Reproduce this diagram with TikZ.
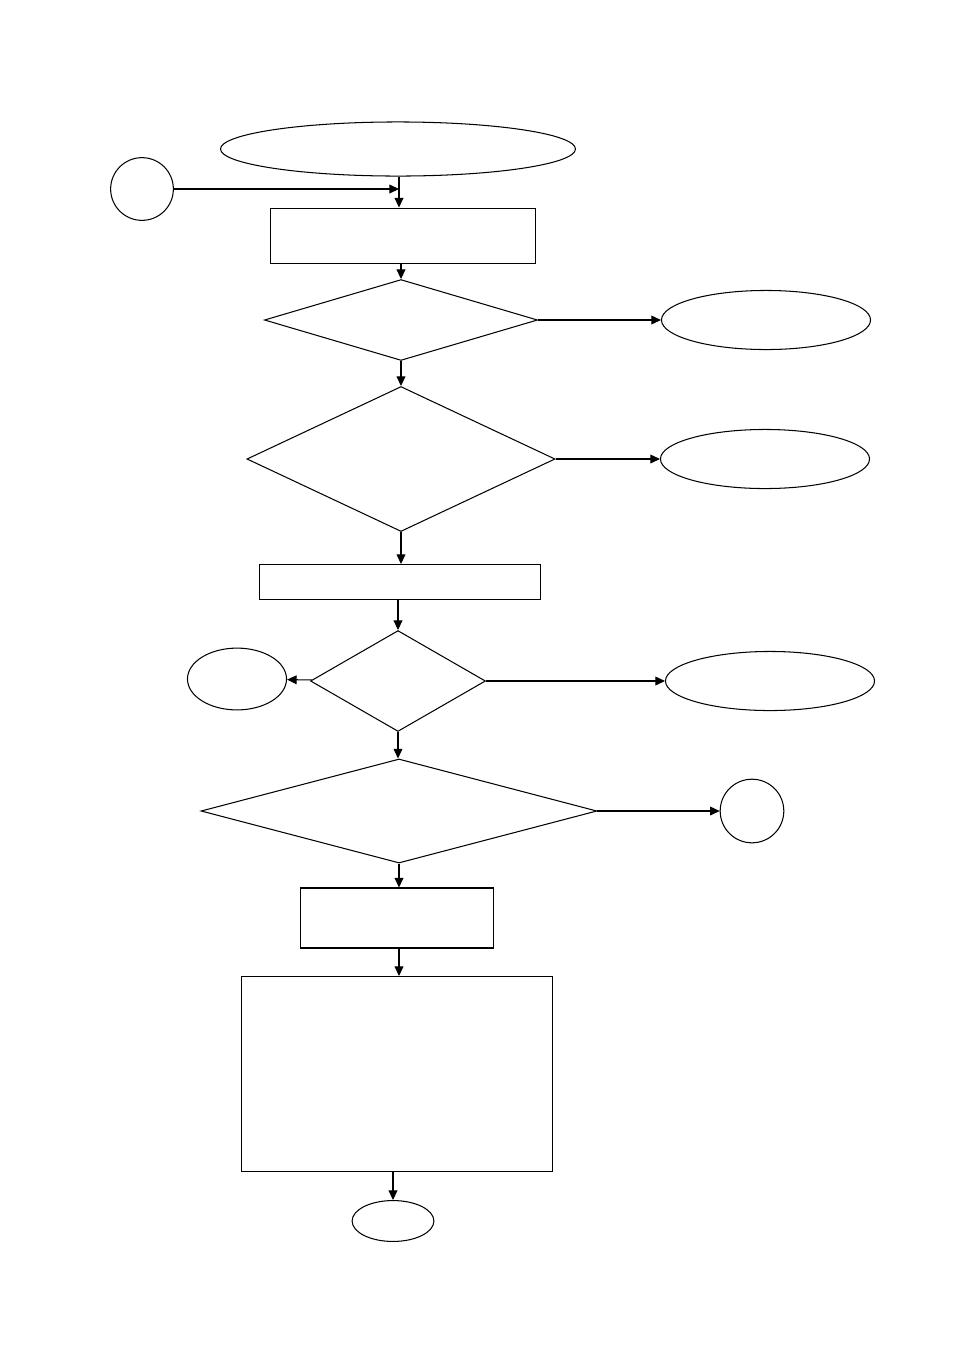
\documentclass[tikz,border=0pt]{standalone}
\usepackage{tikz}
\usetikzlibrary{shapes.geometric, arrows.meta, positioning, calc}

\begin{document}
\begin{tikzpicture}[
        x=0.022cm, y=-0.022cm,
        line width=0.65pt,
        arrow/.style={-{Triangle[length=6pt, width=5.5pt]}, line width=0.65pt},
        terminal/.style={ellipse, draw=black, inner sep=0pt, fill=white},
        connector/.style={circle, draw=black, inner sep=0pt, fill=white},
        box/.style={rectangle, draw=black, inner sep=0pt, fill=white},
        decision/.style={diamond, draw=black, inner sep=0pt, fill=white}
    ]
    \useasboundingbox (0,0) rectangle (954,1348);

    % Nodes
    \node[terminal, minimum width=7.81cm, minimum height=1.19cm] (start) at (398,149) {};
    \node[connector, minimum size=1.38cm] (conin) at (142,189) {};
    \coordinate (join) at (399,189);
    \node[box, minimum width=5.81cm, minimum height=1.23cm] (init) at (403,236) {};

    \node[decision, minimum width=6.01cm, minimum height=1.78cm] (checka) at (401,320) {};
    \node[terminal, minimum width=4.6cm, minimum height=1.3cm] (exita) at (766,320) {};

    \node[decision, minimum width=6.78cm, minimum height=3.19cm] (checkb) at (401,459) {};
    \node[terminal, minimum width=4.6cm, minimum height=1.3cm] (exitb) at (765,459) {};

    \node[box, minimum width=6.18cm, minimum height=0.77cm] (load) at (400,582) {};

    \node[decision, minimum width=3.85cm, minimum height=2.22cm] (checkc) at (398,681) {};
    \node[terminal, minimum width=2.18cm, minimum height=1.36cm] (exitl) at (237,679) {};
    \node[terminal, minimum width=4.6cm, minimum height=1.3cm] (exitc) at (770,681) {};

    \node[decision, minimum width=8.71cm, minimum height=2.29cm] (checkd) at (399,811) {};
    \node[connector, minimum size=1.4cm] (conout) at (752,811) {};

    \node[box, minimum width=4.25cm, minimum height=1.32cm] (step) at (397,918) {};
    \node[box, minimum width=6.86cm, minimum height=4.29cm] (output) at (397,1074) {};
    \node[terminal, minimum width=1.8cm, minimum height=0.9cm] (stop) at (393,1221) {};

    % Arrows
    \draw[arrow] (conin) -- (join);
    \draw[arrow] (start.south -| join) -- (init.north -| join);
    \draw[arrow] (init.south -| checka.north) -- (checka.north);
    \draw[arrow] (checka) -- (exita);
    \draw[arrow] (checka) -- (checkb);
    \draw[arrow] (checkb) -- (exitb);
    \draw[arrow] (checkb.south) -- (load.north -| checkb.south);
    \draw[arrow] (load.south -| checkc.north) -- (checkc.north);
    \draw[arrow] (checkc) -- (exitl);
    \draw[arrow] (checkc) -- (exitc);
    \draw[arrow] (checkc.south) -- (checkd.north -| checkc.south);
    \draw[arrow] (checkd) -- (conout);
    \draw[arrow] (checkd.south) -- (step.north -| checkd.south);
    \draw[arrow] (step.south -| checkd.south) -- (output.north -| checkd.south);
    \draw[arrow] (output.south -| stop.north) -- (stop.north);

\end{tikzpicture}
\end{document}
